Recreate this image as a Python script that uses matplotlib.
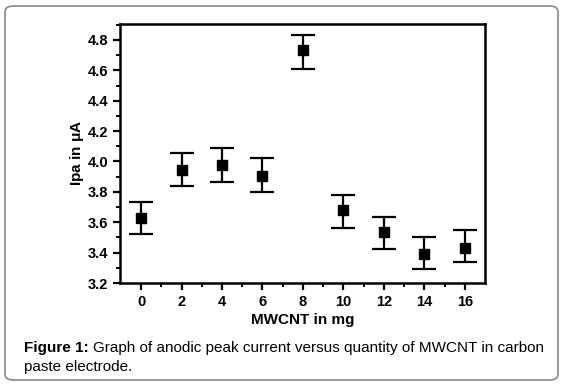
import numpy as np
import matplotlib.pyplot as plt
from matplotlib.patches import FancyBboxPatch

# MWCNT quantity (mg) and anodic peak current (uA)
mwcnt = [0, 2, 4, 6, 8, 10, 12, 14, 16]
ipa = [3.63, 3.945, 3.98, 3.905, 4.735, 3.678, 3.537, 3.392, 3.428]
err_low = [0.107, 0.104, 0.113, 0.105, 0.125, 0.117, 0.111, 0.100, 0.091]
err_high = [0.104, 0.110, 0.108, 0.116, 0.097, 0.103, 0.097, 0.113, 0.118]

x_ticks = [0, 2, 4, 6, 8, 10, 12, 14, 16]
y_ticks = [3.2, 3.4, 3.6, 3.8, 4.0, 4.2, 4.4, 4.6, 4.8]

plt.rcParams['font.family'] = ['Liberation Sans', 'DejaVu Sans']

fig = plt.figure(figsize=(5.62, 3.86), dpi=100)

# rounded frame round the figure
frame = FancyBboxPatch((5/562, 6/386), 553/562, 374/386,
                       boxstyle="round,pad=0,rounding_size=0.015",
                       transform=fig.transFigure, fill=False,
                       edgecolor="#888888", linewidth=1.2)
fig.patches.append(frame)

ax = fig.add_axes([120/562, 1 - 283/386, 365/562, 259/386])
ax.errorbar(mwcnt, ipa, yerr=[err_low, err_high], fmt='s', color='black',
            markersize=7.5, elinewidth=1.6, capsize=8.5, capthick=1.6)

ax.set_xlim(-1.04, 17.0)
ax.set_ylim(3.2, 4.905)
ax.set_xticks(x_ticks)
ax.set_xticks([1, 3, 5, 7, 9, 11, 13, 15], minor=True)
ax.set_yticks(y_ticks)
ax.set_yticks(np.arange(3.3, 4.9, 0.2), minor=True)
ax.set_yticklabels([f"{v:.1f}" for v in y_ticks])

for s in ax.spines.values():
    s.set_linewidth(1.8)
ax.tick_params(which='major', direction='out', length=5, width=1.6,
               labelsize=10.5)
ax.tick_params(which='minor', direction='out', length=3, width=1.4)
for lab in ax.get_xticklabels() + ax.get_yticklabels():
    lab.set_fontweight('bold')

ax.set_xlabel("MWCNT in mg", fontsize=11, fontweight='bold', labelpad=3)
ax.set_ylabel("Ipa in $\\mathregular{\\mu}$A", fontsize=11, fontweight='bold', labelpad=1)

# caption: bold lead-in, then plain text right after it
cap_y1 = 1 - 348/386
cap_y2 = 1 - 367/386
t1 = fig.text(24/562, cap_y1, "Figure 1:", fontsize=11, fontweight='bold',
              va='center', ha='left')
fig.canvas.draw()
bb = t1.get_window_extent()
fig.text((bb.x1 + 4) / 562, cap_y1,
         "Graph of anodic peak current versus quantity of MWCNT in carbon",
         fontsize=11, va='center', ha='left')
fig.text(24/562, cap_y2, "paste electrode.", fontsize=11,
         va='center', ha='left')

fig.savefig("out.png", dpi=100)
